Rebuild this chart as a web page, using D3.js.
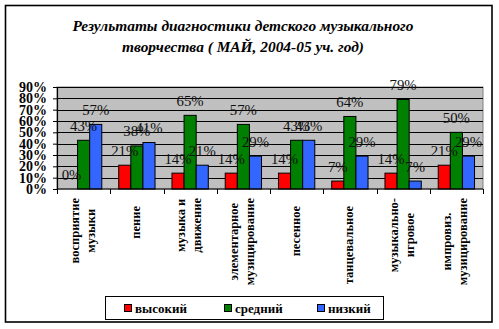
<!DOCTYPE html>
<html>
<head>
<meta charset="utf-8">
<script src="https://cdn.jsdelivr.net/npm/d3@7"></script>
<style>
  html, body { margin: 0; padding: 0; background: #fff; }
  svg { display: block; }
</style>
</head>
<body>
<svg id="chart" width="499" height="329"></svg>
<script>
// Categories (each entry is split into lines of the rotated axis label)
const categories = [
  ["восприятие", "музыки"],
  ["пение"],
  ["музыка и", "движение"],
  ["элементарное", "музицирование"],
  ["песенное"],
  ["танцевальное"],
  ["музыкально-", "игровое"],
  ["импровиз.", "музицирование"]
];
const seriesNames = ["высокий", "средний", "низкий"];
const seriesColors = ["#ff0000", "#008000", "#3366ff"];
const high = [0, 21, 14, 14, 14, 7, 14, 21];
const middle = [43, 38, 65, 57, 43, 64, 79, 50];
const low = [57, 41, 21, 29, 43, 29, 7, 29];
const yTicks = [0, 10, 20, 30, 40, 50, 60, 70, 80, 90];
const titleLines = [
  "Результаты диагностики детского музыкального",
  "творчества ( МАЙ, 2004-05 уч. год)"
];

const FONT = "'Liberation Serif', 'Times New Roman', serif";
const series = [high, middle, low];
const svg = d3.select("#chart").attr("font-family", FONT);

// outer chart frame
svg.append("rect")
  .attr("x", 5.5).attr("y", 5.5).attr("width", 486.5).attr("height", 316.5)
  .attr("fill", "#fff").attr("stroke", "#000").attr("stroke-width", 1.6);

// title
svg.append("g").selectAll("text").data(titleLines).join("text")
  .attr("x", 243).attr("y", (d, i) => 31 + i * 21)
  .attr("text-anchor", "middle")
  .attr("font-family", FONT)
  .attr("font-size", 15.4).attr("font-weight", "bold").attr("font-style", "italic")
  .text(d => d);

const plot = { left: 57, right: 483, top: 87, bottom: 189 };

const x0 = d3.scaleBand()
  .domain(d3.range(categories.length))
  .range([plot.left, plot.right])
  .paddingInner(0).paddingOuter(0);
const x1 = d3.scaleBand()
  .domain(d3.range(series.length))
  .range([0, x0.bandwidth()])
  .paddingInner(0).paddingOuter(0.7);
const y = d3.scaleLinear().domain([0, 90]).range([plot.bottom, plot.top]);

// plot background
svg.append("rect")
  .attr("x", plot.left).attr("y", plot.top)
  .attr("width", plot.right - plot.left).attr("height", plot.bottom - plot.top)
  .attr("fill", "#c0c0c0").attr("stroke", "#808080").attr("stroke-width", 1);

// gridlines
svg.append("g").selectAll("line").data(yTicks.slice(1)).join("line")
  .attr("x1", plot.left).attr("x2", plot.right)
  .attr("y1", d => Math.round(y(d)) + 0.5).attr("y2", d => Math.round(y(d)) + 0.5)
  .attr("stroke", "#000").attr("stroke-width", 1);

// bars
const groups = svg.append("g").selectAll("g").data(categories).join("g")
  .attr("transform", (d, i) => `translate(${x0(i)},0)`);
groups.selectAll("rect")
  .data((d, i) => series.map((s, k) => ({ k, v: s[i] })))
  .join("rect")
  .attr("x", d => x1(d.k))
  .attr("y", d => y(d.v))
  .attr("width", x1.bandwidth())
  .attr("height", d => y(0) - y(d.v))
  .attr("fill", d => seriesColors[d.k])
  .attr("stroke", "#000").attr("stroke-width", 1);

// value labels
groups.selectAll("text")
  .data((d, i) => series.map((s, k) => ({ k, v: s[i] })))
  .join("text")
  .attr("x", d => x1(d.k) + x1.bandwidth() / 2)
  .attr("y", d => y(d.v) - 9.5)
  .attr("text-anchor", "middle")
  .attr("font-family", FONT)
  .attr("font-size", 14.8)
  .attr("fill", "#111")
  .text(d => d.v + "%");

// y axis
const yAxis = svg.append("g")
  .attr("transform", `translate(${plot.left},0)`)
  .call(d3.axisLeft(y).tickValues(yTicks).tickFormat(d => d + "%").tickSize(4).tickPadding(6));
yAxis.attr("font-family", FONT);
yAxis.select(".domain").attr("stroke", "#000").attr("stroke-width", 1.2);
yAxis.selectAll(".tick line").attr("stroke", "#000");
yAxis.selectAll("text")
  .attr("font-family", FONT)
  .attr("font-size", 14).attr("font-weight", "bold").attr("fill", "#000");

// x axis with ticks at category boundaries
const xAxisG = svg.append("g");
xAxisG.append("line")
  .attr("x1", plot.left).attr("x2", plot.right)
  .attr("y1", plot.bottom).attr("y2", plot.bottom)
  .attr("stroke", "#000").attr("stroke-width", 1.2);
const boundaries = d3.range(categories.length + 1).map(i =>
  i < categories.length ? x0(i) : x0(categories.length - 1) + x0.bandwidth());
xAxisG.selectAll(".bt").data(boundaries).join("line")
  .attr("class", "bt")
  .attr("x1", d => Math.round(d) + 0.5).attr("x2", d => Math.round(d) + 0.5)
  .attr("y1", plot.bottom).attr("y2", plot.bottom + 5)
  .attr("stroke", "#000");

// rotated category labels, lines centred on each other, block hung below the axis
const catG = svg.append("g").selectAll("g").data(categories).join("g");
catG.each(function (lines, i) {
  const g = d3.select(this);
  const cx = x0(i) + x0.bandwidth() / 2;
  const lineGap = 16;
  const texts = g.selectAll("text").data(lines).join("text")
    .attr("font-family", FONT)
    .attr("font-size", 12.5).attr("font-weight", "bold")
    .attr("text-anchor", "middle")
    .text(d => d);
  const longest = d3.max(texts.nodes(), n => n.getComputedTextLength());
  const top = lines.length > 1 ? 198 : 206;
  const cy = top + longest / 2;
  texts.attr("transform", (d, j) => {
    const lx = cx + (j - (lines.length - 1) / 2) * lineGap + 3;
    return `translate(${lx},${cy}) rotate(-90)`;
  });
});

// legend
const legend = svg.append("g");
legend.append("rect")
  .attr("x", 105.5).attr("y", 296.5).attr("width", 278).attr("height", 23)
  .attr("fill", "#fff").attr("stroke", "#000").attr("stroke-width", 1);
const legendX = [124, 224, 317];
const items = legend.selectAll("g").data(seriesNames).join("g")
  .attr("transform", (d, i) => `translate(${legendX[i]},304)`);
items.append("rect")
  .attr("x", 0.5).attr("y", 0.5).attr("width", 7).attr("height", 7)
  .attr("fill", (d, i) => seriesColors[i]).attr("stroke", "#000");
items.append("text")
  .attr("x", 11).attr("y", 8.5)
  .attr("font-family", FONT)
  .attr("font-size", 13).attr("font-weight", "bold")
  .text(d => d);
</script>
</body>
</html>
